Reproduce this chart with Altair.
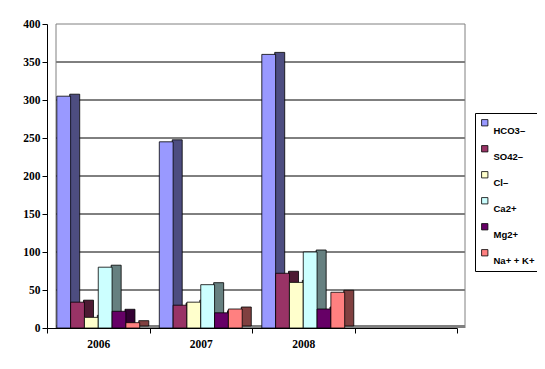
import altair as alt
import pandas as pd

years = ["2006", "2007", "2008"]
all_slots = ["2006", "2007", "2008", " "]
series = ["HCO3–", "SO42–", "Cl–", "Ca2+", "Mg2+", "Na+ + K+"]
hco3 = [305, 245, 360]
so4 = [34, 30, 72]
cl = [14, 34, 60]
ca = [80, 57, 100]
mg = [22, 20, 25]
nak = [7, 25, 47]
front_colors = ["#9999FF", "#993366", "#FFFFCC", "#CCFFFF", "#660066", "#FF8080"]
side_colors = ["#4D4D80", "#4D1A33", "#808066", "#668080", "#330033", "#804040"]
grid_values = [50, 100, 150, 200, 250, 300, 350]
top_value = [400]
y_ticks = [0, 50, 100, 150, 200, 250, 300, 350, 400]

rows = []
for s, vals in zip(series, [hco3, so4, cl, ca, mg, nak]):
    for yr, v in zip(years, vals):
        rows.append({"year": yr, "ion": s, "value": v})
df = pd.DataFrame(rows)
grid_df = pd.DataFrame({"value": grid_values})
top_df = pd.DataFrame({"value": top_value})

FONT = "Liberation Sans"
AXIS_FONT = "Liberation Serif"
W, H = 410, 304
BAND = W / 4

yscale = alt.Scale(domain=[0, 400], nice=False)
xscale = alt.Scale(domain=all_slots, paddingInner=0, paddingOuter=0)
xoff_front = alt.Scale(domain=series, paddingInner=0, paddingOuter=0.71)
xoff_side = alt.Scale(domain=series, paddingInner=0, paddingOuter=0.71,
                      range=[11.0, BAND + 11.0])

yaxis = alt.Axis(values=y_ticks, labelOverlap=False, grid=False,
                 labelFont=AXIS_FONT, labelFontSize=11.5, labelFontWeight="bold",
                 labelColor="black", domainColor="black", tickColor="black",
                 tickSize=5, labelPadding=2)

x_enc = alt.X("year:N", scale=xscale, title=None,
              axis=alt.Axis(tickBand="extent", labelAngle=0, labelFont=AXIS_FONT,
                            labelFontSize=11.5, labelFontWeight="bold",
                            labelColor="black", domainColor="black",
                            tickColor="black", tickSize=5, labelPadding=5,
                            grid=False))
y_enc = alt.Y("value:Q", scale=yscale, title=None, axis=yaxis)

base = alt.Chart(df)

gridlines = alt.Chart(grid_df).mark_rule(color="black", strokeWidth=1).encode(
    y=y_enc, x=alt.value(9), x2=alt.value(418))
top_line = alt.Chart(top_df).mark_rule(color="#808080").encode(
    y=y_enc, x=alt.value(9), x2=alt.value(418))
left_wall = alt.Chart(top_df).mark_rule(color="#808080").encode(
    x=alt.value(9), y=y_enc, y2=alt.value(H))
right_wall = alt.Chart(top_df).mark_rule(color="#808080").encode(
    x=alt.value(418), y=y_enc, y2=alt.value(H))
floor = alt.Chart(top_df).mark_rule(color="#808080", strokeWidth=3).encode(
    y=alt.value(H - 1.5), x=alt.value(9), x2=alt.value(418))

sides = base.mark_bar(width=10, yOffset=-2, stroke="black",
                      strokeWidth=0.8).encode(
    x=x_enc,
    xOffset=alt.XOffset("ion:N", scale=xoff_side, sort=series),
    y=y_enc,
    fill=alt.Fill("ion:N", scale=alt.Scale(domain=series, range=side_colors),
                  legend=None),
)

fronts = base.mark_bar(stroke="black", strokeWidth=0.8).encode(
    x=x_enc,
    xOffset=alt.XOffset("ion:N", scale=xoff_front, sort=series),
    y=y_enc,
    color=alt.Color("ion:N", scale=alt.Scale(domain=series, range=front_colors),
                    sort=series,
                    legend=alt.Legend(orient="none", legendX=428, legendY=89,
                                      title=None, symbolType="square",
                                      symbolSize=40, symbolStrokeColor="black",
                                      symbolStrokeWidth=0.8,
                                      labelFont=FONT, labelFontSize=9.5,
                                      labelFontWeight="bold", labelColor="black",
                                      labelExpr="['', datum.label]",
                                      labelBaseline="alphabetic",
                                      rowPadding=4,
                                      strokeColor="black", fillColor="white",
                                      padding=5)),
)

chart = alt.layer(gridlines, top_line, left_wall, right_wall, floor, sides, fronts).resolve_scale(
    color="independent", fill="independent", xOffset="independent"
).properties(
    width=W, height=H,
    autosize=alt.AutoSizeParams(type="none"),
    padding={"left": 39, "top": 16, "right": 80, "bottom": 37},
).configure_view(stroke=None)

chart.save("out.html", embed_options={"renderer": "svg", "actions": False})
